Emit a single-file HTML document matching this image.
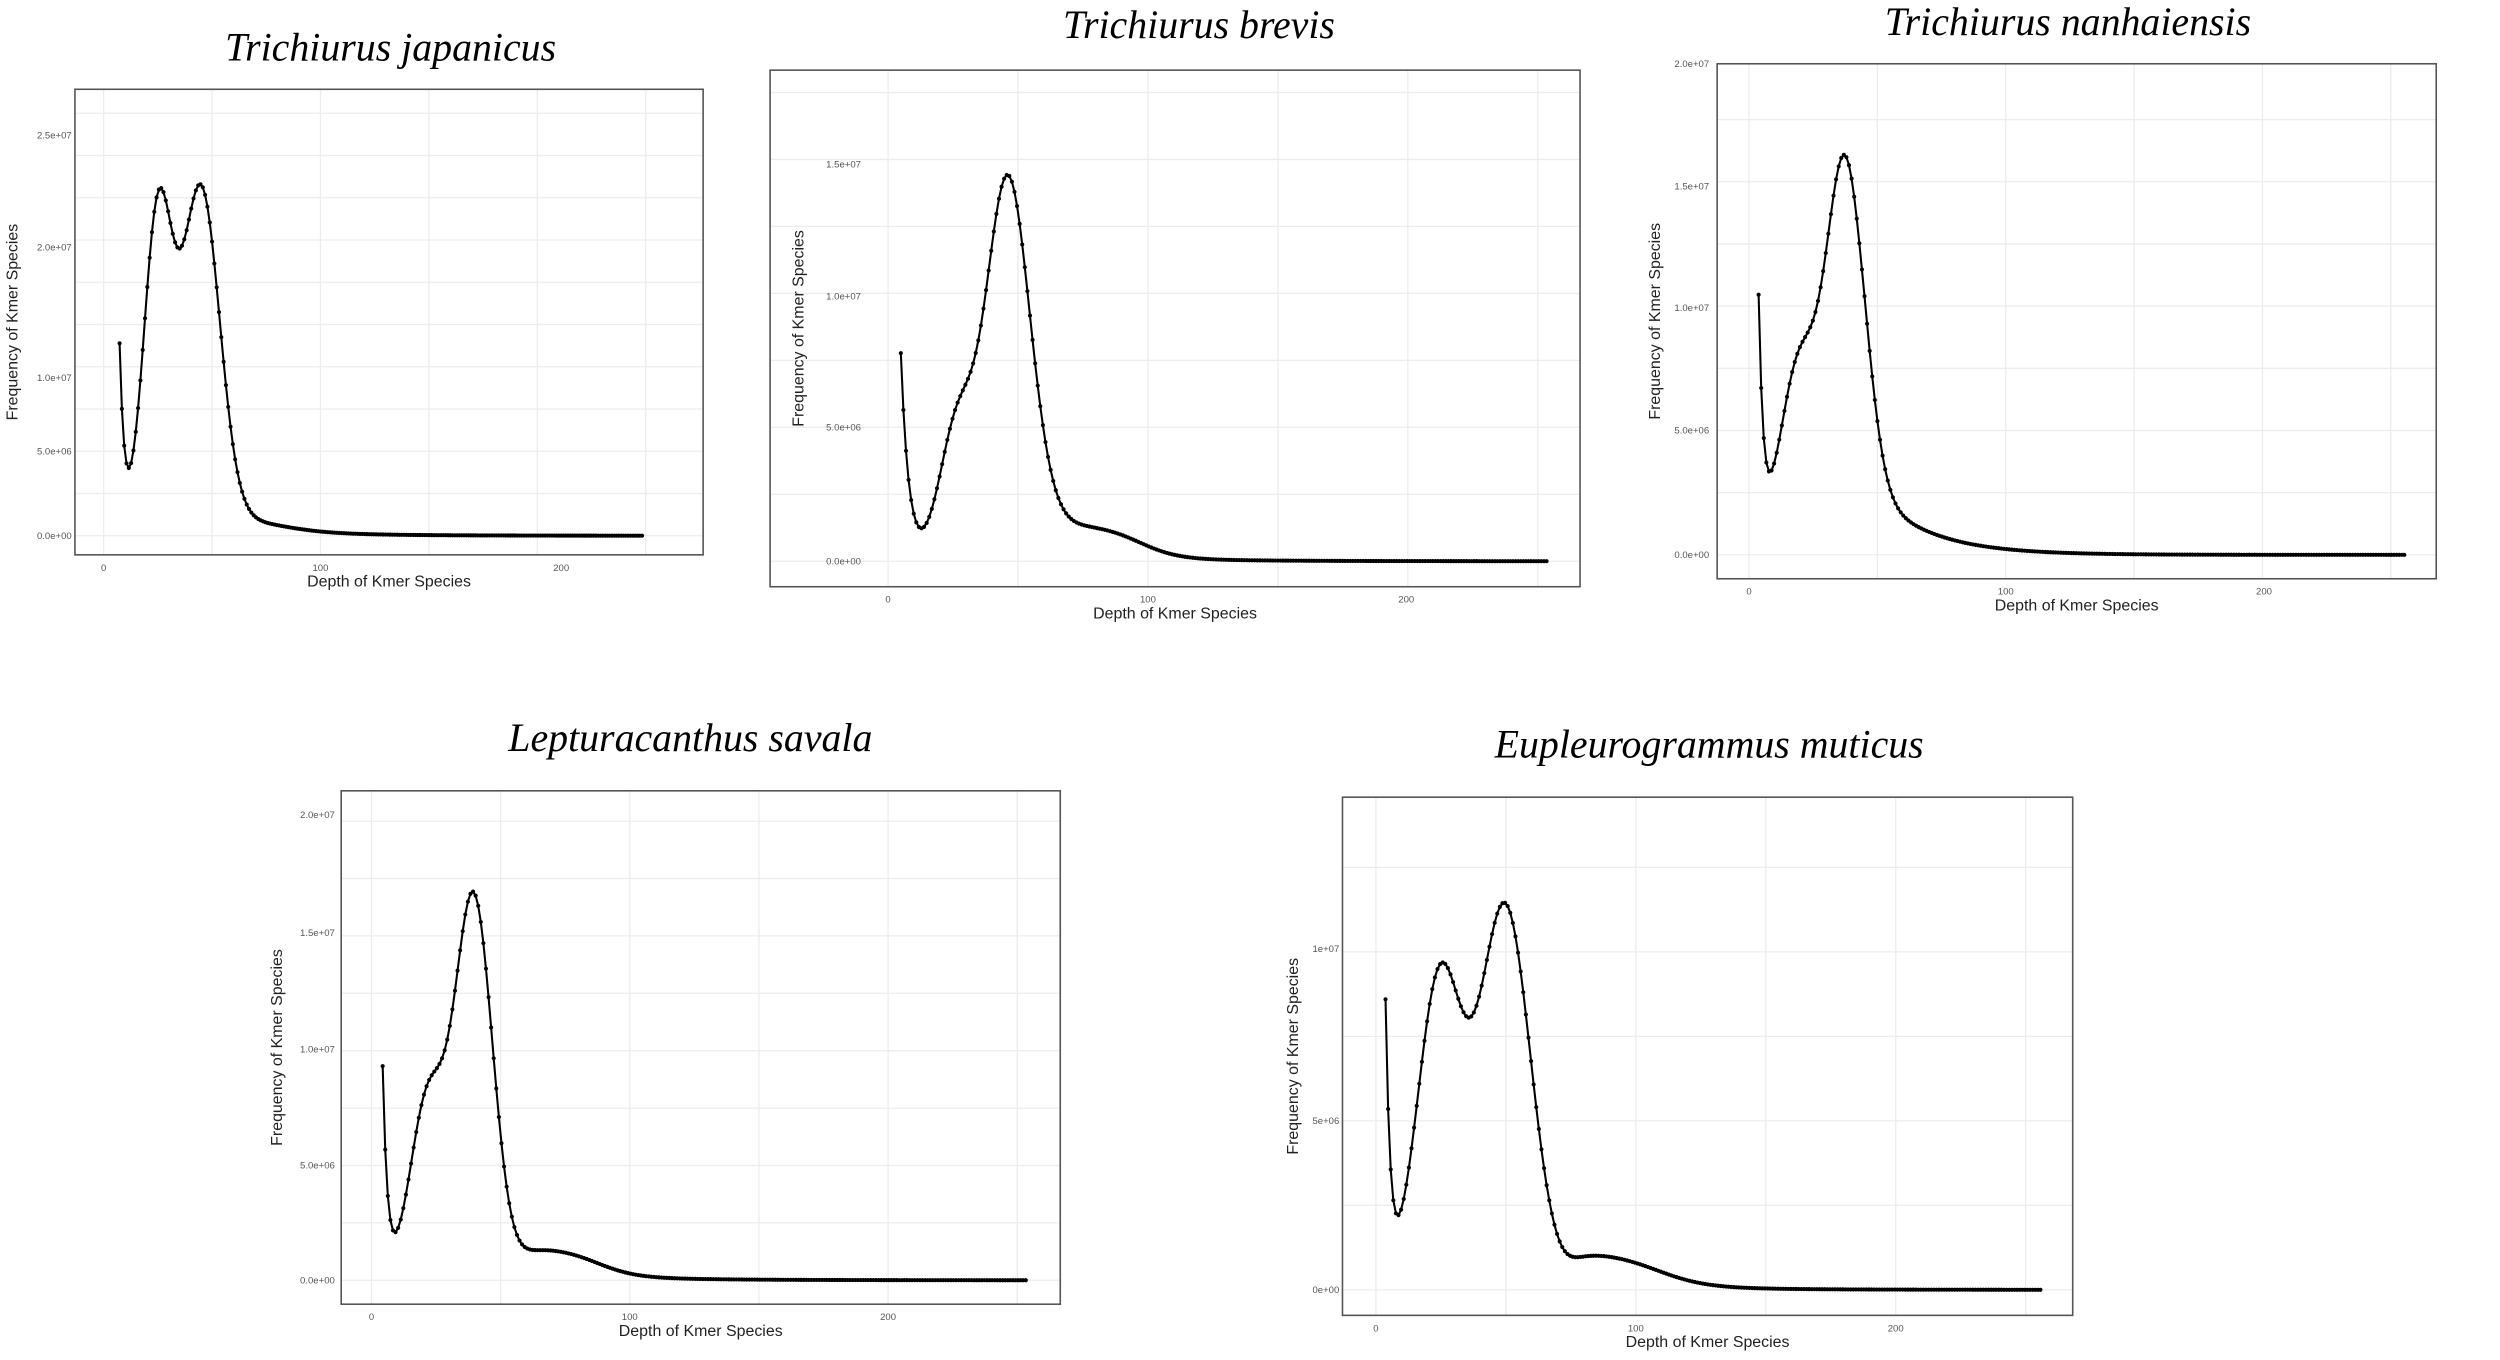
<!DOCTYPE html>
<html><head><meta charset="utf-8">
<style>html,body{margin:0;padding:0;background:#fff;}svg{display:block;}</style>
</head><body>
<svg id="s" width="2500" height="1360" viewBox="0 0 1568 853" preserveAspectRatio="none" xmlns="http://www.w3.org/2000/svg" font-family="Liberation Sans, sans-serif">
<rect width="1568" height="853" fill="#fff"/>
</svg>
<script>
const S=document.getElementById('s');const NS='http://www.w3.org/2000/svg';
function el(t,a,txt){const e=document.createElementNS(NS,t);for(const k in a)e.setAttribute(k,a[k]);if(txt!==undefined)e.textContent=txt;S.appendChild(e);return e;}
const P=[
{title:'Trichiurus japanicus',tx:245,ty:38,box:[47,56,441,348],lx:7,tr:45,xt:[[65,'0'],[201,'100'],[352,'200']],yt:[[336,'0.0e+00'],[283,'5.0e+06'],[237,'1.0e+07'],[155,'2.0e+07'],[85,'2.5e+07']],
 base:336,x0:75,x1:403,step:1.45,spike:[115,3],g:[[99,198,9],[126,218,12]],tail:[150,5,8,175,15,4,50]},
{title:'Trichiurus brevis',tx:752,ty:24,box:[483,44,991,368],lx:500,tr:540,xt:[[557,'0'],[720,'100'],[882,'200']],yt:[[352,'0.0e+00'],[268,'5.0e+06'],[186,'1.0e+07'],[103,'1.5e+07']],
 base:352,x0:565,x1:971,step:1.62,spike:[130,5],g:[[600,80,11],[632,240,14]],tail:[650,6,20,715,12,5,60]},
{title:'Trichiurus nanhaiensis',tx:1297,ty:22,box:[1077,40,1528,363],lx:1037,tr:1072,xt:[[1097,'0'],[1258,'100'],[1420,'200']],yt:[[348,'0.0e+00'],[270,'5.0e+06'],[193,'1.0e+07'],[117,'1.5e+07'],[40,'2.0e+07']],
 base:348,x0:1103,x1:1508,step:1.62,spike:[150,3],g:[[1128,115,12],[1157,240,12]],tail:[1170,6,0,1200,10,45,35]},
{title:'Lepturacanthus savala',tx:433,ty:471,box:[214,496,665,818],lx:173,tr:210,xt:[[233,'0'],[395,'100'],[557,'200']],yt:[[803,'0.0e+00'],[731,'5.0e+06'],[658,'1.0e+07'],[585,'1.5e+07'],[511,'2.0e+07']],
 base:803,x0:240,x1:645,step:1.62,spike:[130,3],g:[[268,110,11],[297,240,12]],tail:[325,6,17,375,12,5,60]},
{title:'Eupleurogrammus muticus',tx:1072,ty:475,box:[842,500,1300,825],lx:810,tr:840,xt:[[863,'0'],[1026,'100'],[1189,'200']],yt:[[809,'0e+00'],[703,'5e+06'],[595,'1e+07']],
 base:809,x0:869,x1:1280,step:1.63,spike:[172,3],g:[[903,195,14],[944,240,16]],tail:[985,6,20,1040,15,5,60]}
];
const sig=z=>1/(1+Math.exp(-z));
for(const p of P){
 const [L,T,R,B]=p.box;
 el('text',{x:p.tx,y:p.ty,'text-anchor':'middle','font-family':'Liberation Serif, serif','font-style':'italic','font-size':25,fill:'#000'},p.title);
 const xs=p.xt.map(t=>t[0]);const dx=xs[1]-xs[0];
 for(let x=xs[0]-dx/2;x<R;x+=dx/2) if(x>L) el('line',{x1:x,y1:T,x2:x,y2:B,stroke:'#ececec','stroke-width':0.8});
 const ys=p.yt.map(t=>t[0]);const dy=ys[0]-ys[1];
 for(let y=ys[0]+dy/2;y>T;y-=dy/2) if(y<B) el('line',{x1:L,y1:y,x2:R,y2:y,stroke:'#ececec','stroke-width':0.8});
 el('rect',{x:L,y:T,width:R-L,height:B-T,fill:'none',stroke:'#555','stroke-width':1});
 for(const [x,l] of p.xt){el('text',{x:x,y:B+10,'text-anchor':'middle','font-size':6,fill:'#555'},l);}
 for(const [y,l] of p.yt){el('text',{x:p.tr,y:y+2,'text-anchor':'end','font-size':6,fill:'#555'},l);}
 el('text',{x:(L+R)/2,y:B+20,'text-anchor':'middle','font-size':10,fill:'#222'},'Depth of Kmer Species');
 const cy=(T+B)/2;
 el('text',{x:p.lx+4,y:cy,'text-anchor':'middle','font-size':10,fill:'#222',transform:`rotate(-90 ${p.lx+4} ${cy})`},'Frequency of Kmer Species');
 const h=x=>{let v=p.spike[0]*Math.exp(-(x-p.x0)/p.spike[1]);for(const [c,a,s] of p.g)v+=a*Math.exp(-(x-c)*(x-c)/(2*s*s));
  const [ts,w,ta,td,k,tb,tt]=p.tail;const on=sig((x-ts)/w);
  v+=ta*on*sig(-(x-td)/k)+tb*on*Math.exp(-Math.max(0,x-ts)/tt);return v;};
 let d='';const pts=[];
 for(let x=p.x0;x<=p.x1;x+=p.step){const y=p.base-h(x);pts.push([x,y]);d+=(d?'L':'M')+x.toFixed(2)+' '+y.toFixed(2);}
 el('path',{d:d,fill:'none',stroke:'#000','stroke-width':1.3});
 let dd='';for(const [x,y] of pts)dd+=`M${(x-1.3).toFixed(2)} ${y.toFixed(2)}a1.3 1.3 0 1 0 2.6 0a1.3 1.3 0 1 0 -2.6 0`;
 el('path',{d:dd,fill:'#000'});
}
</script>
</body></html>
